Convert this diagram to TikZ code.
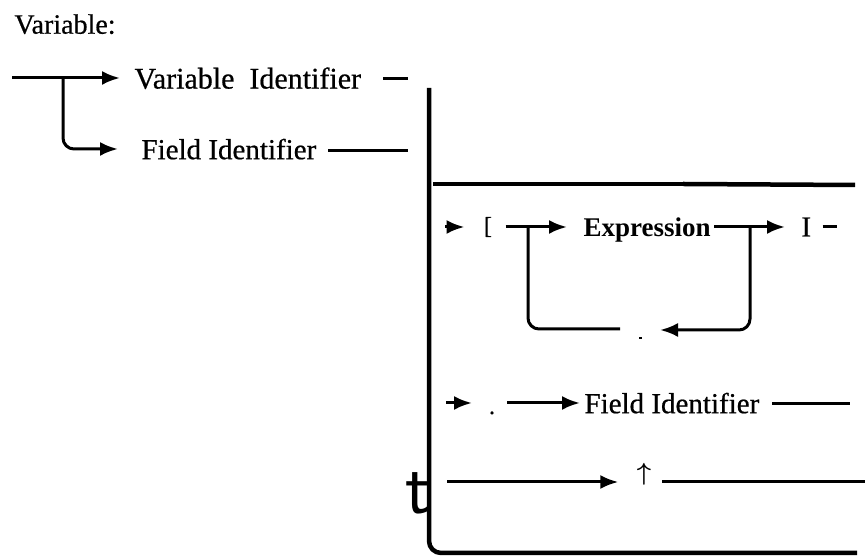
\documentclass[tikz,border=0pt]{standalone}
\usepackage{amsmath,amssymb}
\usepackage{fontspec}
\setmainfont{Liberation Serif}
\newfontfamily\scanfont{Liberation Serif}[FakeBold=0.6]
\usepackage{tikz}
\usetikzlibrary{arrows,arrows.meta,positioning,calc}

\tikzset{
  lbl/.style={anchor=west,inner sep=0pt,text depth=0pt,font=\scanfont\fontsize{29bp}{32bp}\selectfont},
  bxlbl/.style={lbl,font=\fontsize{27bp}{30bp}\selectfont\bfseries},
  sym/.style={inner sep=0pt,font=\scanfont\fontsize{24bp}{28bp}\selectfont},
  frame/.style={line width=4.5bp},
}

\begin{document}
\begin{tikzpicture}[>={Latex[length=18bp,width=14bp]},line join=bevel,x=1bp,y=1bp]
\pgfsetlinewidth{3bp}
\pgfsetcolor{black}
\useasboundingbox (0,0) rectangle (865,559);
\node[lbl,font=\scanfont\fontsize{28bp}{32bp}\selectfont] (title) at (13,535) {Variable:};
% first choice
\coordinate (start) at (12,481);
\coordinate (split) at (63,481);
\node[lbl,font=\scanfont\fontsize{30bp}{33bp}\selectfont] (vid) at (133,481) {Variable~ Identifier};
\node[lbl] (fid) at (140,410) {Field Identifier};
 \draw [->,shorten >=13bp] (start) -- (vid.west);
 \draw [->,rounded corners=11bp,shorten >=22bp] (split) |- (fid.west);
\coordinate (vd1) at (383,480);
\coordinate (vd2) at (408,480);
 \draw (vd1) -- (vd2);
\coordinate (fd1) at (328,408);
\coordinate (fd2) at (408,408);
 \draw (fd1) -- (fd2);
% frame
\coordinate (mtop) at (429,471);
\coordinate (mbend) at (857,6);
 \draw [frame,rounded corners=12bp] (mtop) |- (mbend);
\coordinate (hl) at (433,375);
\coordinate (hm) at (683,375);
\coordinate (hr) at (855,374);
 \draw [line width=3.5bp] (hl) -- (hm);
 \draw [frame] (hm) -- (hr);
\node[font=\sffamily\fontsize{74bp}{74bp}\selectfont,inner sep=0pt,anchor=base west] (tee) at (404,45) {t};
% index row
\coordinate (e0) at (445,332);
\node[sym] (lbr) at (488,332) {[};
\node[bxlbl] (expr) at (582,332) {Expression};
\node[lbl] (rbr) at (800,332) {I};
\coordinate (rd) at (837,332);
 \draw [->,shorten >=18bp] (e0) -- (lbr);
 \draw [->,shorten <=12bp,shorten >=15bp] (lbr) -- (expr.west);
 \draw [->,shorten <=2bp,shorten >=15bp] (expr.east) -- (rbr.west);
 \draw [shorten <=10bp] (rbr.east) -- (rd);
\coordinate (lsp) at (528,332);
\coordinate (lend) at (620,230);
\coordinate (rsp) at (750,332);
\coordinate (rend) at (660,229);
 \draw [rounded corners=11bp] (lsp) |- (lend);
 \draw [->,rounded corners=11bp] (rsp) |- (rend);
\node[fill,inner sep=0pt,minimum width=3bp,minimum height=2bp] (sep) at (640,221) {};
% field row
\coordinate (f0) at (446,156);
\coordinate (f1) at (472,156);
\node[sym,anchor=base] (dot) at (492,145) {.};
\coordinate (g0) at (507,156);
\node[lbl] (fid2) at (583,156) {Field Identifier};
\coordinate (gd1) at (772,155);
\coordinate (gd2) at (850,155);
 \draw [->] (f0) -- (f1);
 \draw [->,shorten >=3bp] (g0) -- (fid2.west);
 \draw (gd1) -- (gd2);
% pointer row
\coordinate (p0) at (447,77);
\node[sym] (ptr) at (644,85) {$\boldsymbol{\uparrow}$};
\coordinate (p1) at (662,77);
\coordinate (p2) at (865,77);
 \draw [->,shorten >=17bp] (p0) -- (ptr.west |- p0);
 \draw (p1) -- (p2);
\end{tikzpicture}
\end{document}
